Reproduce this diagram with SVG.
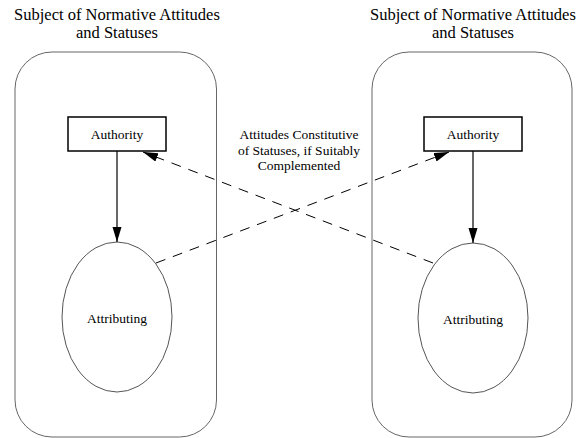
<svg xmlns="http://www.w3.org/2000/svg" width="585" height="438" viewBox="0 0 585 438" font-family="'Liberation Serif', 'DejaVu Serif', serif">
<style>
text{font-family:'Liberation Serif','DejaVu Serif',serif;fill:#000;text-anchor:middle}
.title{font-size:16.5px}
.lbl{font-size:13.5px}
.cont{fill:none;stroke:#666;stroke-width:1}
.ell{fill:#fff;stroke:#555;stroke-width:1}
.rect{fill:#fff;stroke:#000;stroke-width:1.5}
.solid{stroke:#000;stroke-width:1.2;fill:none}
.dash{stroke:#000;stroke-width:1;fill:none;stroke-dasharray:10 8}
</style>
<defs>
<marker id="ah" markerUnits="userSpaceOnUse" markerWidth="16" markerHeight="10" refX="15" refY="4.5" orient="auto">
<path d="M0,0 L15,4.5 L0,9 z" fill="#000"/>
</marker>
</defs>
<g id="subject-left">
<rect class="cont" x="15" y="52" width="201.5" height="385" rx="37" ry="37"/>
<text class="title" x="117" y="20">Subject of Normative Attitudes</text>
<text class="title" x="117" y="37.5">and Statuses</text>
</g>
<g id="subject-right">
<rect class="cont" x="372" y="52" width="200" height="385" rx="37" ry="37"/>
<text class="title" x="473" y="20">Subject of Normative Attitudes</text>
<text class="title" x="473" y="37.5">and Statuses</text>
</g>
<g id="authority-left">
<rect class="rect" x="68" y="117" width="98" height="34"/>
<text class="lbl" x="117" y="139">Authority</text>
</g>
<g id="authority-right">
<rect class="rect" x="424" y="117" width="98" height="34"/>
<text class="lbl" x="473" y="139">Authority</text>
</g>
<g id="attributing-left">
<ellipse class="ell" cx="117" cy="317" rx="55" ry="75"/>
<text class="lbl" x="117" y="323">Attributing</text>
</g>
<g id="attributing-right">
<ellipse class="ell" cx="473" cy="318" rx="55" ry="75"/>
<text class="lbl" x="473" y="324">Attributing</text>
</g>
<g id="connectors">
<line class="solid" x1="117" y1="151" x2="117" y2="242" marker-end="url(#ah)"/>
<line class="solid" x1="473" y1="151" x2="473" y2="243" marker-end="url(#ah)"/>
<line class="dash" x1="433" y1="263" x2="143" y2="152" marker-end="url(#ah)"/>
<line class="dash" x1="156" y1="263" x2="449" y2="152" marker-end="url(#ah)"/>
<text class="lbl" x="299" y="139">Attitudes Constitutive</text>
<text class="lbl" x="299" y="155">of Statuses, if Suitably</text>
<text class="lbl" x="299" y="170">Complemented</text>
</g>
</svg>
